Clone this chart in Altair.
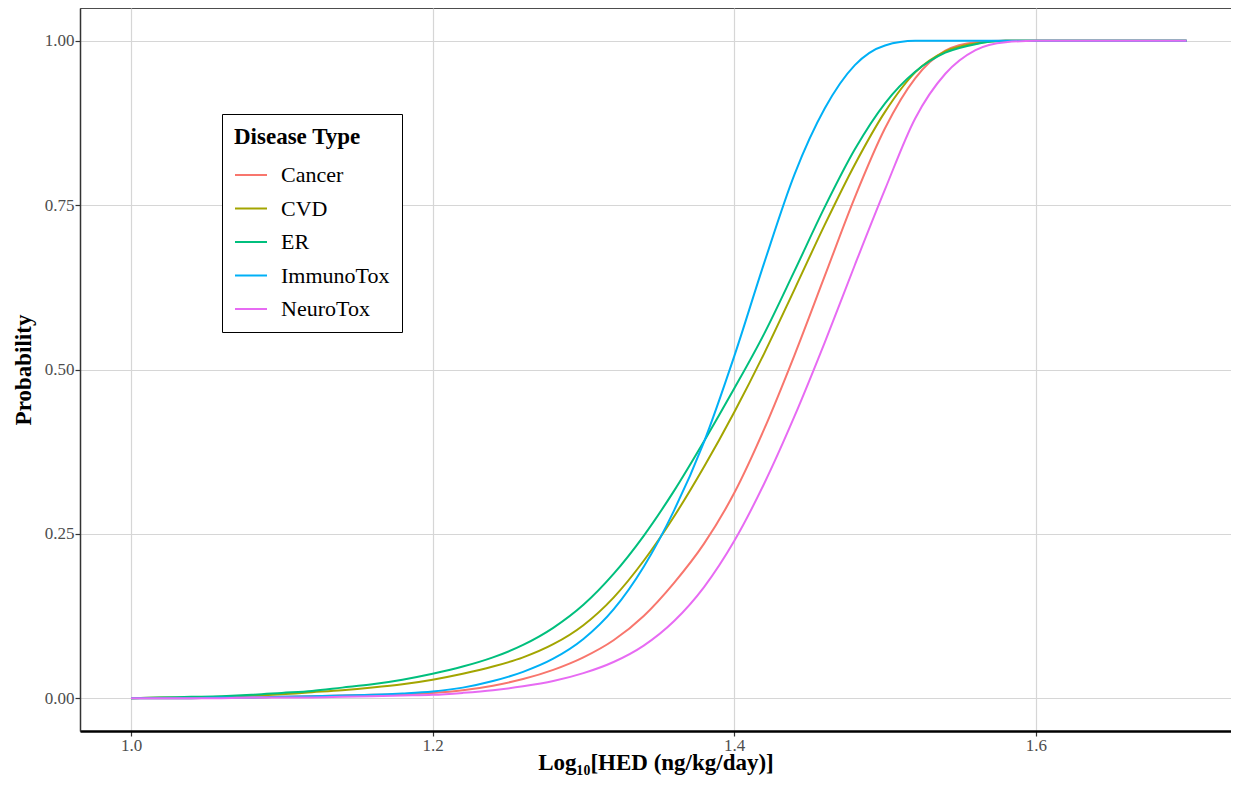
import altair as alt
import pandas as pd

x_vals = [1.00, 1.02, 1.04, 1.06, 1.08, 1.10, 1.12, 1.14, 1.16, 1.18,
          1.20, 1.22, 1.24, 1.26, 1.28, 1.30, 1.32, 1.34, 1.36, 1.38,
          1.40, 1.42, 1.44, 1.46, 1.48, 1.50, 1.52, 1.54, 1.56, 1.58,
          1.60, 1.62, 1.64, 1.66, 1.68, 1.70]

cancer = [0.000, 0.000, 0.000, 0.001, 0.001, 0.002, 0.003, 0.004, 0.005, 0.006,
          0.008, 0.012, 0.019, 0.029, 0.043, 0.062, 0.088, 0.125, 0.175, 0.235,
          0.312, 0.410, 0.522, 0.642, 0.762, 0.867, 0.943, 0.985, 0.998, 1.000,
          1.000, 1.000, 1.000, 1.000, 1.000, 1.000]
cvd = [0.000, 0.001, 0.001, 0.002, 0.004, 0.006, 0.009, 0.012, 0.016, 0.021,
       0.028, 0.037, 0.048, 0.062, 0.082, 0.111, 0.153, 0.209, 0.276, 0.352,
       0.435, 0.525, 0.622, 0.720, 0.812, 0.892, 0.952, 0.984, 0.996, 1.000,
       1.000, 1.000, 1.000, 1.000, 1.000, 1.000]
er = [0.000, 0.001, 0.002, 0.003, 0.005, 0.008, 0.011, 0.016, 0.021, 0.028,
      0.037, 0.048, 0.062, 0.081, 0.107, 0.142, 0.189, 0.247, 0.315, 0.391,
      0.471, 0.555, 0.650, 0.747, 0.835, 0.905, 0.953, 0.982, 0.995, 1.000,
      1.000, 1.000, 1.000, 1.000, 1.000, 1.000]
immunotox = [0.000, 0.000, 0.000, 0.001, 0.001, 0.002, 0.003, 0.004, 0.005, 0.007,
             0.010, 0.016, 0.026, 0.040, 0.060, 0.090, 0.135, 0.200, 0.285, 0.390,
             0.520, 0.663, 0.797, 0.897, 0.963, 0.993, 1.000, 1.000, 1.000, 1.000,
             1.000, 1.000, 1.000, 1.000, 1.000, 1.000]
neurotox = [0.000, 0.000, 0.000, 0.000, 0.001, 0.001, 0.001, 0.002, 0.003, 0.004,
            0.005, 0.008, 0.012, 0.018, 0.026, 0.038, 0.055, 0.080, 0.117, 0.169,
            0.239, 0.327, 0.429, 0.541, 0.659, 0.774, 0.882, 0.950, 0.986, 0.998,
            1.000, 1.000, 1.000, 1.000, 1.000, 1.000]

categories = ["Cancer", "CVD", "ER", "ImmunoTox", "NeuroTox"]
colors = ["#F8766D", "#A3A500", "#00BF7D", "#00B0F6", "#E76BF3"]
x_ticks = [1.0, 1.2, 1.4, 1.6]
y_ticks = [0.0, 0.25, 0.5, 0.75, 1.0]

series = [cancer, cvd, er, immunotox, neurotox]
rows = []
for cat, vals in zip(categories, series):
    for xv, yv in zip(x_vals, vals):
        rows.append({"x": xv, "p": yv, "type": cat})
df = pd.DataFrame(rows)

FONT = "Liberation Serif"

chart = alt.Chart(df).mark_line(strokeWidth=2, interpolate="monotone").encode(
    x=alt.X("x:Q",
            scale=alt.Scale(domain=[0.96618, 1.72944], nice=False, zero=False),
            axis=alt.Axis(values=x_ticks, format=".1f",
                          title="Log₁₀[HED (ng/kg/day)]",
                          domainColor="black", domainWidth=2.5,
                          titleBaseline="alphabetic", titleY=38)),
    y=alt.Y("p:Q",
            scale=alt.Scale(domain=[-0.05, 1.05], nice=False, zero=False),
            axis=alt.Axis(values=y_ticks, format=".2f", title="Probability",
                          domainColor="#333333", domainWidth=1.5,
                          titlePadding=9)),
    color=alt.Color("type:N",
                    scale=alt.Scale(domain=categories, range=colors),
                    legend=alt.Legend(
                        title="Disease Type", orient="none",
                        legendX=142, legendY=106,
                        titleFont=FONT, titleFontSize=23, titleFontWeight="bold",
                        titleColor="black", titlePadding=9,
                        labelFont=FONT, labelFontSize=22, labelColor="black",
                        labelOffset=13,
                        symbolType="stroke", symbolSize=1024,
                        symbolStrokeWidth=2,
                        padding=12, strokeColor="black", fillColor="white",
                        rowPadding=5.5)),
).properties(
    width=1151,
    height=723,
    autosize=alt.AutoSizeParams(type="none"),
    padding={"left": 72, "top": 0, "right": 0, "bottom": 44},
).configure_view(
    stroke="#4d4d4d", strokeWidth=1
).configure_axis(
    labelFont=FONT, labelFontSize=17, labelColor="#4d4d4d",
    titleFont=FONT, titleFontSize=23, titleFontWeight="bold", titleColor="black",
    gridColor="#d6d6d6", gridWidth=1.2,
    tickColor="#333333", tickSize=5, tickWidth=1.2, labelPadding=1,
)

chart.save("out.html", embed_options={"renderer": "svg", "actions": False})
